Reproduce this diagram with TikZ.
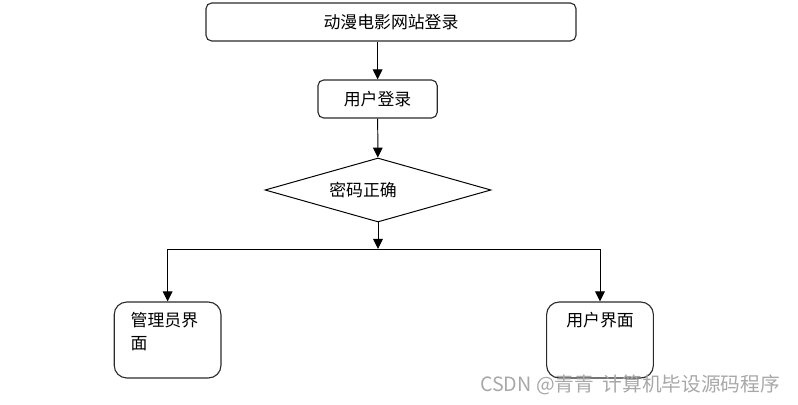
\documentclass[tikz,border=0pt]{standalone}
\usepackage{fontspec}
\usepackage{xcolor}
\usepackage{tikz}
\usetikzlibrary{arrows.meta,positioning,shapes.geometric}
\newfontfamily\cjk{Noto Sans CJK SC}
\definecolor{linegray}{HTML}{2B2B2B}
\definecolor{markgray}{HTML}{A8A8A8}
\tikzset{
  box/.style={draw=linegray, line width=0.8pt, rounded corners=4pt, align=center, fill=white, inner sep=4pt},
  panel/.style={draw=linegray, line width=0.8pt, rounded corners=9pt, fill=white, minimum width=2.67cm, minimum height=1.9cm},
  paneltext/.style={inner sep=0pt, align=left, font=\cjk\fontsize{12}{16.5}\selectfont},
  decision/.style={diamond, aspect=3.5, draw=black, line width=0.7pt, align=center, fill=white, inner sep=0pt, minimum width=5.65cm, minimum height=1.6cm},
  arrow/.style={-{Triangle[length=2.5mm, width=2.4mm]}, line width=0.7pt, draw=black},
  line/.style={line width=0.7pt, draw=black}
}

\begin{document}
\begin{tikzpicture}[font=\cjk\fontsize{12}{14}\selectfont]
  \useasboundingbox (0,0) rectangle (19.95,10.1);

  \node[box, minimum width=9.25cm, minimum height=0.95cm] (site) at (9.775,9.55) {动漫电影网站登录};
  \node[box, minimum width=2.98cm, minimum height=0.95cm] (login) at (9.44,7.625) {用户登录};
  \node[decision] (check) at (9.45,5.35) {密码正确\hspace{0.75cm}};
  \coordinate (branch) at (9.45,3.875);

  \node[panel, label={[paneltext, anchor=north west, xshift=0.42cm, yshift=-0.26cm]north west:管理员界\\面}] (admin) at (4.19,1.6) {};
  \node[panel, label={[paneltext, anchor=north, yshift=-0.26cm]north:用户界面}] (user) at (15.0,1.6) {};

  \node[text=markgray, font=\cjk\fontsize{14}{16}\selectfont] (mark) at (15.75,0.47) {CSDN @青青\ \ 计算机毕设源码程序};

  \draw[arrow] (site.south -| login.north) -- (login.north);
  \draw[arrow] (login) -- (check);
  \draw[arrow] (check) -- (branch);
  \draw[arrow] (branch) -| (admin.north);
  \draw[arrow] (branch) -| (user.north);
\end{tikzpicture}
\end{document}
